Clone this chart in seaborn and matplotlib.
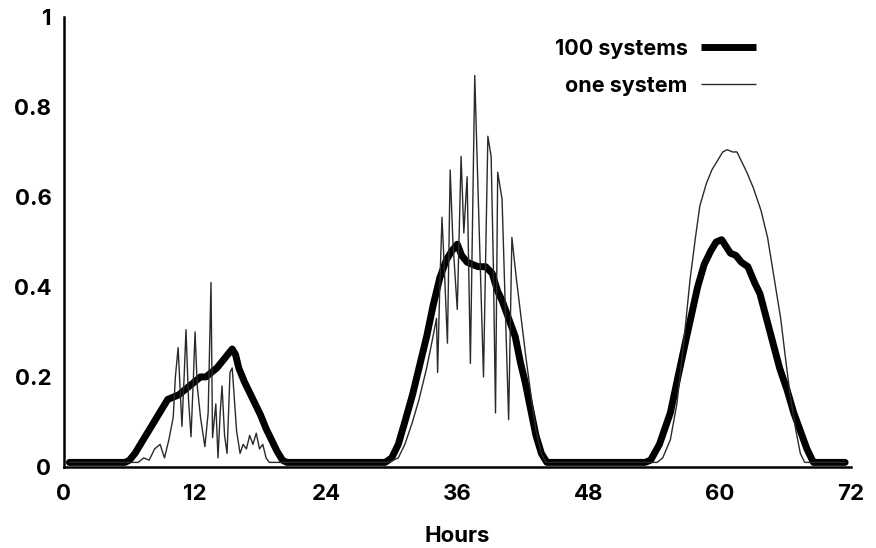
import numpy as np
import pandas as pd
import seaborn as sns
import matplotlib.pyplot as plt

# --- data (hours, normalised output) ---
hours_100 = [0.5, 5.6, 6.0, 6.5, 7.0, 7.5, 8.0, 8.5, 9.0, 9.5, 10.0, 10.5, 11.0, 11.5, 12.0,
             12.5, 13.0, 13.5, 14.0, 14.5, 15.0, 15.4, 15.7, 16.0, 16.5, 17.0, 17.5, 18.0,
             18.5, 19.0, 19.5, 20.0, 20.4,
             29.4, 30.0, 30.6, 31.2, 31.9, 32.5, 33.2, 33.8, 34.4, 35.0, 35.5, 36.0, 36.4,
             36.9, 37.4, 37.9, 38.6, 39.2, 39.7, 40.1, 40.7, 41.3, 41.8, 42.2, 42.7, 43.2,
             43.7, 44.2,
             53.2, 53.7, 54.5, 55.5, 56.2, 57.0, 58.0, 58.6, 59.2, 59.7, 60.2, 60.6, 61.0,
             61.5, 62.0, 62.6, 63.2, 63.7, 64.3, 64.9, 65.5, 66.2, 66.8, 67.4, 68.0, 68.6,
             71.5]
vals_100 = [0.01, 0.01, 0.015, 0.03, 0.05, 0.07, 0.09, 0.11, 0.13, 0.15, 0.155, 0.16, 0.17,
            0.18, 0.19, 0.2, 0.2, 0.21, 0.22, 0.235, 0.25, 0.262, 0.25, 0.22, 0.19, 0.165,
            0.14, 0.115, 0.085, 0.06, 0.035, 0.015, 0.01,
            0.01, 0.02, 0.05, 0.1, 0.16, 0.22, 0.29, 0.36, 0.42, 0.46, 0.48, 0.495, 0.47,
            0.455, 0.45, 0.445, 0.445, 0.43, 0.39, 0.37, 0.33, 0.29, 0.23, 0.19, 0.13, 0.07,
            0.03, 0.01,
            0.01, 0.015, 0.05, 0.12, 0.2, 0.29, 0.4, 0.45, 0.48, 0.5, 0.505, 0.49, 0.475,
            0.47, 0.455, 0.445, 0.41, 0.385, 0.33, 0.275, 0.22, 0.17, 0.12, 0.08, 0.04, 0.01,
            0.01]

hours_one = [0.5, 6.8, 7.3, 7.8, 8.3, 8.8, 9.2, 9.6, 10.0, 10.2, 10.45, 10.8, 11.0, 11.17,
             11.4, 11.63, 11.85, 12.0, 12.2, 12.5, 12.9, 13.2, 13.46, 13.6, 13.9, 14.1, 14.3,
             14.47, 14.7, 14.93, 15.2, 15.4, 15.6, 15.8, 16.12, 16.4, 16.7, 17.0, 17.3, 17.6,
             17.9, 18.2, 18.5, 18.8,
             29.7, 30.6, 31.2, 31.9, 32.5, 33.2, 33.7, 34.1, 34.2, 34.4, 34.6, 34.8, 35.1,
             35.35, 35.6, 36.0, 36.35, 36.6, 36.9, 37.2, 37.6, 37.9, 38.1, 38.4, 38.8, 39.1,
             39.3, 39.5, 39.7, 40.1, 40.4, 40.7, 41.0, 41.4, 41.85, 42.3, 42.8, 43.2, 43.7,
             44.1,
             54.3, 54.8, 55.5, 56.1, 56.7, 57.3, 57.8, 58.2, 58.8, 59.3, 59.8, 60.3, 60.7,
             61.2, 61.6, 62.0, 62.5, 63.1, 63.8, 64.4, 65.0, 65.6, 66.1, 66.5, 67.0, 67.4,
             67.8, 71.5]
vals_one = [0.01, 0.01, 0.02, 0.015, 0.04, 0.05, 0.02, 0.06, 0.11, 0.2, 0.265, 0.09, 0.2,
            0.305, 0.15, 0.067, 0.2, 0.3, 0.18, 0.11, 0.045, 0.12, 0.41, 0.065, 0.14, 0.02,
            0.12, 0.18, 0.07, 0.03, 0.21, 0.22, 0.15, 0.08, 0.03, 0.05, 0.04, 0.07, 0.05,
            0.075, 0.04, 0.05, 0.02, 0.01,
            0.01, 0.02, 0.05, 0.1, 0.15, 0.22, 0.28, 0.33, 0.21, 0.4, 0.555, 0.45, 0.275,
            0.66, 0.5, 0.35, 0.69, 0.52, 0.645, 0.23, 0.87, 0.615, 0.45, 0.2, 0.735, 0.69,
            0.45, 0.12, 0.655, 0.595, 0.35, 0.105, 0.51, 0.42, 0.33, 0.24, 0.15, 0.08, 0.03,
            0.01,
            0.01, 0.02, 0.06, 0.14, 0.27, 0.415, 0.51, 0.58, 0.63, 0.66, 0.68, 0.7, 0.705,
            0.7, 0.7, 0.68, 0.655, 0.62, 0.57, 0.51, 0.42, 0.33, 0.23, 0.155, 0.08, 0.03,
            0.01, 0.01]

x_ticks = [0, 12, 24, 36, 48, 60, 72]
y_ticks = [0, 0.2, 0.4, 0.6, 0.8, 1]
y_tick_labels = ['0', '0.2', '0.4', '0.6', '0.8', '1']

sns.set_style('white')
plt.rcParams['font.family'] = ['Inter', 'DejaVu Sans']
plt.rcParams['font.weight'] = 'bold'
plt.rcParams['text.color'] = 'black'
plt.rcParams['axes.labelcolor'] = 'black'

df_100 = pd.DataFrame({'Hours': hours_100, 'value': vals_100})
df_one = pd.DataFrame({'Hours': hours_one, 'value': vals_one})

fig = plt.figure(figsize=(8.76, 5.48), dpi=100)
ax = fig.add_axes([0.073, 0.148, 0.898, 0.821])

sns.lineplot(data=df_100, x='Hours', y='value', ax=ax, color='black', lw=5,
             sort=False, estimator=None, label='100 systems')
sns.lineplot(data=df_one, x='Hours', y='value', ax=ax, color='#2a2a2a', lw=1.0,
             sort=False, estimator=None, label='one system')

ax.set_xlim(0, 72)
ax.set_ylim(0, 1)
ax.set_xticks(x_ticks)
ax.set_yticks(y_ticks)
ax.set_yticklabels(y_tick_labels)
ax.set_xlabel('Hours', fontsize=16, fontweight='bold', labelpad=16, color='black')
ax.set_ylabel('')

for side in ['top', 'right']:
    ax.spines[side].set_visible(False)
for side in ['left', 'bottom']:
    ax.spines[side].set_linewidth(1.8)
    ax.spines[side].set_color('black')

ax.tick_params(axis='both', direction='in', length=7, width=1.5, colors='black',
               labelsize=16)
ax.tick_params(axis='y', pad=9)
ax.tick_params(axis='x', pad=12)

leg = ax.legend(loc='upper right', bbox_to_anchor=(0.905, 0.995), markerfirst=False,
                frameon=False, fontsize=15.5, handlelength=2.6, handletextpad=0.6,
                labelspacing=0.8)
for t in leg.get_texts():
    t.set_fontweight('bold')
    t.set_color('black')
for h in leg.get_lines():
    h.set_solid_capstyle('butt')

fig.savefig('out.png', dpi=100)
